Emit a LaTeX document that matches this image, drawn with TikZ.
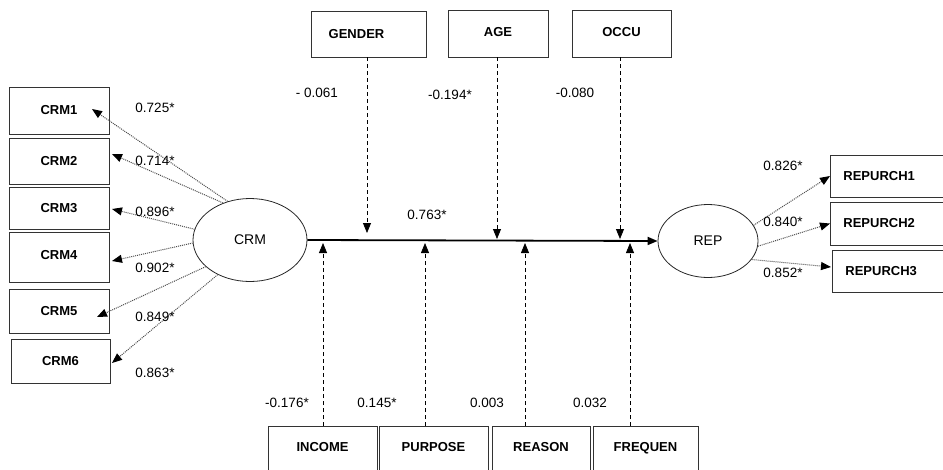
\documentclass[tikz,border=0pt]{standalone}
\usepackage{fontspec}
\setmainfont{Liberation Sans}
\usetikzlibrary{arrows.meta,shapes.geometric}
\begin{document}
\begin{tikzpicture}[x=1pt,y=-1pt,
  box/.style={draw=black!80, line width=0.8pt, inner sep=0pt, font=\fontsize{13}{15}\selectfont\bfseries},
  lat/.style={draw=black!85, ellipse, line width=0.8pt, inner sep=0pt, font=\fontsize{14}{16}\selectfont},
  num/.style={font=\fontsize{13.5}{16}\selectfont, inner sep=0pt},
  tip/.style={-{Triangle[length=10pt,width=8pt,color=black]}},
  ind/.style={tip, draw=black!70, line width=1pt, densely dotted},
  mod/.style={tip, draw=black, line width=0.8pt, dash pattern=on 4pt off 3pt},
  mainpath/.style={-{Triangle[length=10pt,width=8pt]}, line width=1.8pt}
]
\useasboundingbox (0,0) rectangle (943,469);

% left indicator boxes
\node[box, minimum width=100, minimum height=47] (crm1) at (59,110.5) {CRM1};
\node[box, minimum width=100, minimum height=46] (crm2) at (59,161) {CRM2};
\node[box, minimum width=100, minimum height=42] (crm3) at (59,208) {CRM3};
\node[box, minimum width=100, minimum height=50] (crm4) at (59,257) {\raisebox{5pt}{CRM4}};
\node[box, minimum width=100, minimum height=44] (crm5) at (59,311) {CRM5};
\node[box, minimum width=99, minimum height=44] (crm6) at (60.5,361) {CRM6};

% latent variables
\node[lat, minimum width=114, minimum height=83] (crm) at (250,240) {CRM};
\node[lat, minimum width=100, minimum height=73] (rep) at (708,241) {REP};

% right indicator boxes
\node[box, anchor=west, minimum height=42, text width=100, align=left, inner xsep=13] (rp1) at (830,176) {REPURCH1};
\node[box, anchor=west, minimum height=43, text width=100, align=left, inner xsep=13] (rp2) at (830,223.5) {REPURCH2};
\node[box, anchor=west, minimum height=42, text width=100, align=left, inner xsep=13] (rp3) at (832,271) {REPURCH3};

% top moderators
\node[box, minimum width=115, minimum height=46] (gender) at (368.5,34) {\hspace*{-24pt}GENDER};
\node[box, minimum width=100, minimum height=47] (age) at (498,33.5) {\raisebox{3pt}{AGE}};
\node[box, minimum width=99, minimum height=47] (occu) at (621.5,33.5) {\raisebox{3pt}{OCCU}};

% bottom moderators (cut by the lower edge)
\node[box, anchor=north, minimum width=109, text height=25, text depth=35] (income) at (322.5,426) {INCOME};
\node[box, anchor=north, minimum width=109, text height=25, text depth=35] (purpose) at (433.5,426) {PURPOSE};
\node[box, anchor=north, minimum width=98, text height=25, text depth=35] (reason) at (541,426) {REASON};
\node[box, anchor=north, minimum width=105, text height=25, text depth=35] (frequen) at (645.5,426) {FREQUEN};

% tips of indicator arrows
\coordinate (t1) at (92,109);
\coordinate (t2) at (112,154);
\coordinate (t3) at (112,209);
\coordinate (t4) at (112,261);
\coordinate (t5) at (97,317);
\coordinate (t6) at (112,363);
\draw[ind] (crm.120) -- (t1);
\draw[ind] (crm.126) -- (t2);
\draw[ind] (crm.169) -- (t3);
\draw[ind] (crm.183) -- (t4);
\draw[ind] (crm.211) -- (t5);
\draw[ind] (crm.227) -- (t6);

\coordinate (r3) at (831,267);
\draw[ind] (rep.19) -- (rp1.west);
\draw[ind] (rep.-6) -- (rp2.west);
\draw[ind] (rep.-23) -- (r3);

% main path
\draw[mainpath] (crm.east) -- (rep.west);

% moderator arrow ends on the main path
\coordinate (mg) at (367,233);
\coordinate (ma) at (497,239);
\coordinate (mo) at (620,239);
\coordinate (mi) at (323,243);
\coordinate (mp) at (425,243);
\coordinate (mr) at (525,243);
\coordinate (mf) at (630,243);
\draw[mod] (gender.south -| mg) -- (mg);
\draw[mod] (age.south -| ma) -- (ma);
\draw[mod] (occu.south -| mo) -- (mo);
\draw[mod] (income.north -| mi) -- (mi);
\draw[mod] (purpose.north -| mp) -- (mp);
\draw[mod] (reason.north -| mr) -- (mr);
\draw[mod] (frequen.north -| mf) -- (mf);

% coefficient labels
\node[num] (l1) at (155,108) {0.725*};
\node[num] (l2) at (155,161) {0.714*};
\node[num] (l3) at (155,212) {0.896*};
\node[num] (l4) at (155,268) {0.902*};
\node[num] (l5) at (155,317) {0.849*};
\node[num] (l6) at (155,373) {0.863*};
\node[num] (lr1) at (783,166) {0.826*};
\node[num] (lr2) at (783,222) {0.840*};
\node[num] (lr3) at (783,273) {0.852*};
\node[num] (lmain) at (427,215) {0.763*};
\node[num] (lg) at (317,93) {- 0.061};
\node[num] (la) at (450,95) {-0.194*};
\node[num] (lo) at (575,93) {-0.080};
\node[num] (li) at (287,403) {-0.176*};
\node[num] (lp) at (377,403) {0.145*};
\node[num] (lre) at (487,403) {0.003};
\node[num] (lf) at (590,403) {0.032};
\end{tikzpicture}
\end{document}
